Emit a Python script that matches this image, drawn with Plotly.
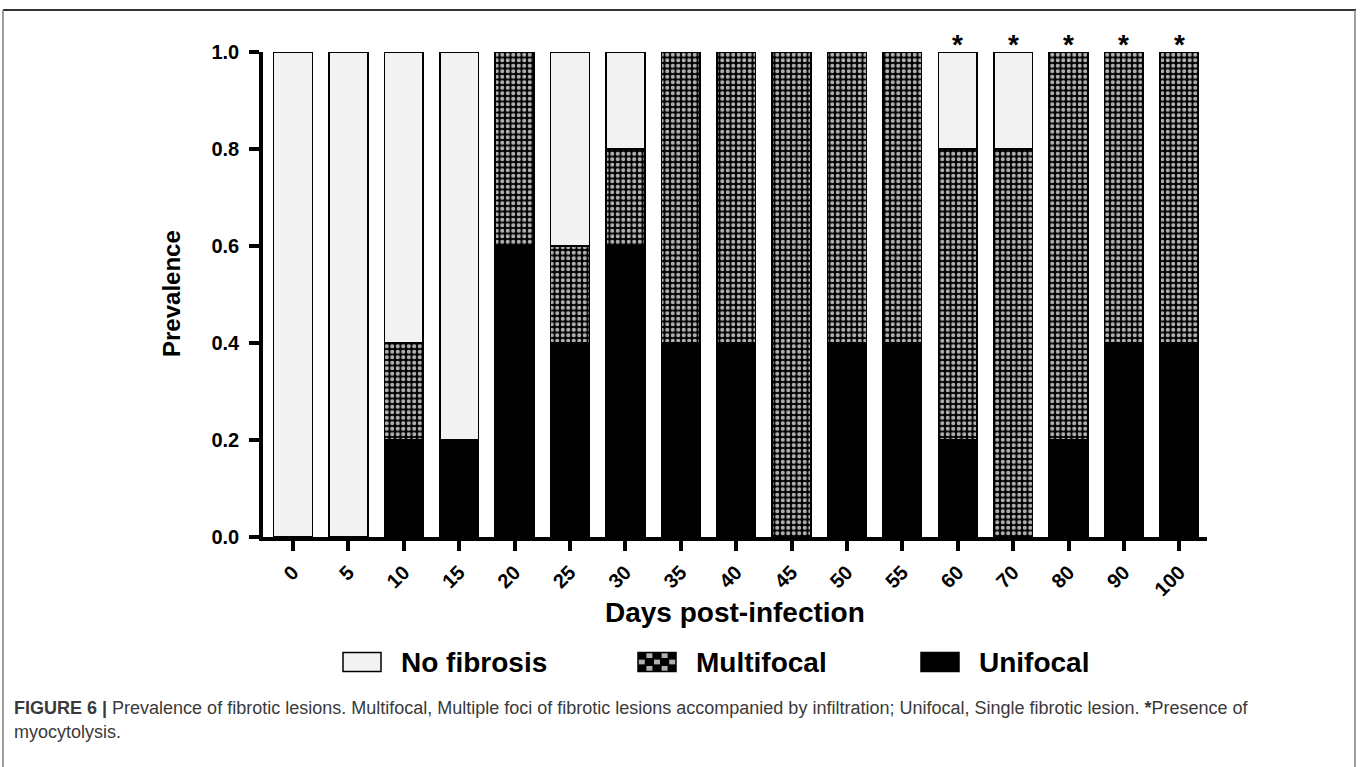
import plotly.graph_objects as go

days = ["0", "5", "10", "15", "20", "25", "30", "35", "40", "45", "50", "55", "60", "70", "80", "90", "100"]
unifocal = [0, 0, 0.2, 0.2, 0.6, 0.4, 0.6, 0.4, 0.4, 0, 0.4, 0.4, 0.2, 0, 0.2, 0.4, 0.4]
multifocal = [0, 0, 0.2, 0, 0.4, 0.2, 0.2, 0.6, 0.6, 1.0, 0.6, 0.6, 0.6, 0.8, 0.8, 0.6, 0.6]
no_fibrosis = [1.0, 1.0, 0.6, 0.8, 0, 0.4, 0.2, 0, 0, 0, 0, 0, 0.2, 0.2, 0, 0, 0]
myocytolysis = [False] * 12 + [True] * 5
y_ticks = [0, 0.2, 0.4, 0.6, 0.8, 1.0]
legend_labels = ["No fibrosis", "Multifocal", "Unifocal"]

W, H = 1363, 767
L, R, T, B = 263, 1207, 52, 537
pw, ph = R - L, B - T


def px(x):
    return (x - L) / pw


def py(y):
    return (B - y) / ph


def nz(vals):
    return [v if v else None for v in vals]


FONT = "Liberation Sans, Arial, sans-serif"
NOFIB = "#f2f2f2"
CHECK = "#b0b0b0"
fig = go.Figure()
line = dict(color="black", width=1.6)
fig.add_trace(go.Bar(x=days, y=nz(unifocal), name="Unifocal", marker=dict(color="black", line=line),
                     cliponaxis=False, showlegend=False))
fig.add_trace(go.Bar(x=days, y=nz(multifocal), name="Multifocal",
                     marker=dict(color="black", line=line,
                                 pattern=dict(shape=".", fgcolor=CHECK, bgcolor="black",
                                              size=5.5, solidity=0.45, fillmode="replace")),
                     cliponaxis=False, showlegend=False))
fig.add_trace(go.Bar(x=days, y=nz(no_fibrosis), name="No fibrosis", marker=dict(color=NOFIB, line=line),
                     cliponaxis=False, showlegend=False))

annotations = []
# significance stars (category index positions)
for i, s in enumerate(myocytolysis):
    if s:
        annotations.append(dict(x=i, y=1.0, xref="x", yref="y", text="<b>*</b>", showarrow=False,
                                yanchor="middle", yshift=8, font=dict(size=28, color="black", family=FONT)))

# axis titles
annotations.append(dict(xref="paper", yref="paper", x=px(735), y=py(612), xanchor="center", yanchor="middle",
                        showarrow=False, text="<b>Days post-infection</b>", font=dict(size=28, family=FONT)))
annotations.append(dict(xref="paper", yref="paper", x=px(171), y=py(294), xanchor="center", yanchor="middle",
                        showarrow=False, textangle=-90, text="<b>Prevalence</b>", font=dict(size=24, family=FONT)))

# legend (manual, large swatches)
shapes = []
leg_y = 662
box_w, box_h = 38, 19
box_x = [343, 638, 921]
fills = [NOFIB, "black", "black"]
for i, (lab, bx, fc) in enumerate(zip(legend_labels, box_x, fills)):
    shapes.append(dict(type="rect", xref="paper", yref="paper", x0=px(bx), x1=px(bx + box_w),
                       y0=py(leg_y - box_h / 2), y1=py(leg_y + box_h / 2),
                       fillcolor=fc, line=dict(color="black", width=1.5)))
    if lab == "Multifocal":
        nc, nr = 5, 3
        cw, ch = box_w / nc, box_h / nr
        for r in range(nr):
            for c in range(nc):
                if (r + c) % 2 == 1:
                    x0 = bx + c * cw
                    y0 = leg_y - box_h / 2 + r * ch
                    shapes.append(dict(type="rect", xref="paper", yref="paper",
                                       x0=px(x0 + 0.8), x1=px(x0 + cw - 0.8),
                                       y0=py(y0 + 0.8), y1=py(y0 + ch - 0.8),
                                       fillcolor=CHECK, line=dict(width=0)))
    annotations.append(dict(xref="paper", yref="paper", x=px(bx + box_w + 18), y=py(leg_y),
                            xanchor="left", yanchor="middle", showarrow=False, text=f"<b>{lab}</b>",
                            font=dict(size=28, family=FONT, color="black")))

# frame
shapes += [
    dict(type="line", xref="paper", yref="paper", x0=px(3), x1=px(1356), y0=py(10), y1=py(10),
         line=dict(color="#333333", width=2)),
    dict(type="line", xref="paper", yref="paper", x0=px(3), x1=px(3), y0=py(10), y1=py(800),
         line=dict(color="#808080", width=1.5)),
    dict(type="line", xref="paper", yref="paper", x0=px(1355), x1=px(1355), y0=py(10), y1=py(800),
         line=dict(color="#808080", width=1.5)),
]

# caption
annotations.append(dict(xref="paper", yref="paper", x=px(12), y=py(708), xanchor="left", yanchor="middle",
                        showarrow=False, align="left", font=dict(size=18, color="#3a3a3a", family=FONT),
                        text="<b>FIGURE 6 |</b> Prevalence of fibrotic lesions. Multifocal, Multiple foci of fibrotic lesions accompanied by infiltration; Unifocal, Single fibrotic lesion. <b>*</b>Presence of"))
annotations.append(dict(xref="paper", yref="paper", x=px(12), y=py(732), xanchor="left", yanchor="middle",
                        showarrow=False, align="left", font=dict(size=18, color="#3a3a3a", family=FONT),
                        text="myocytolysis."))

fig.update_layout(
    width=W, height=H,
    margin=dict(l=L, r=W - R, t=T, b=H - B),
    barmode="stack", bargap=0.3,
    plot_bgcolor="white", paper_bgcolor="white",
    font=dict(family=FONT, color="black"),
    showlegend=False,
    xaxis=dict(type="category", range=[-0.54, 16.5], showline=True, linecolor="black", linewidth=3.5,
               ticks="outside", ticklen=10, tickwidth=3.5, tickcolor="black", tickangle=-45,
               tickfont=dict(size=20, weight="bold"), ticklabelstandoff=2,
               showgrid=False, zeroline=False),
    yaxis=dict(range=[0, 1.0], tickvals=y_ticks, ticktext=[f"{v:.1f}" for v in y_ticks],
               showline=True, linecolor="black", linewidth=3.5,
               ticks="outside", ticklen=10, tickwidth=3.5, tickcolor="black",
               tickfont=dict(size=20, weight="bold"), ticklabelstandoff=6,
               showgrid=False, zeroline=False),
    shapes=shapes,
    annotations=annotations,
)

fig.write_html("out.html")
